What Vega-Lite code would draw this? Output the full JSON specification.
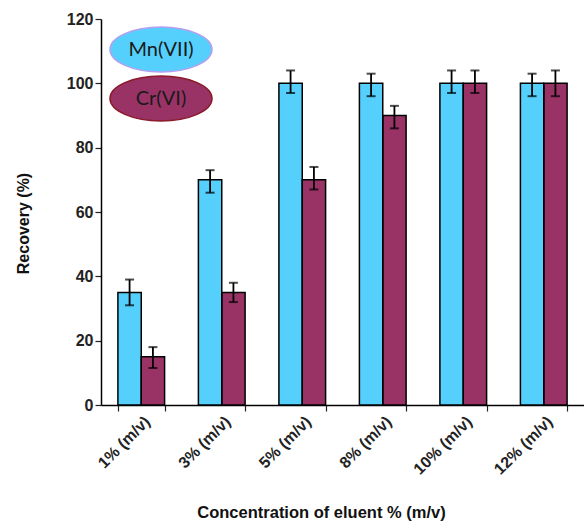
{
  "$schema": "https://vega.github.io/schema/vega-lite/v6.json",
  "width": 483,
  "height": 386,
  "autosize": {"type": "none"},
  "padding": {"left": 101, "top": 19, "right": 0, "bottom": 116},
  "background": "white",
  "config": {"view": {"stroke": null}, "font": "Liberation Sans"},
  "data": {
    "values": [
      {"eluent": "1% (m/v)", "ion": "Mn(VII)", "recovery": 35, "lower": 31, "upper": 39},
      {"eluent": "1% (m/v)", "ion": "Cr(VI)", "recovery": 15, "lower": 11.5, "upper": 18},
      {"eluent": "3% (m/v)", "ion": "Mn(VII)", "recovery": 70, "lower": 66, "upper": 73},
      {"eluent": "3% (m/v)", "ion": "Cr(VI)", "recovery": 35, "lower": 32, "upper": 38},
      {"eluent": "5% (m/v)", "ion": "Mn(VII)", "recovery": 100, "lower": 97, "upper": 104},
      {"eluent": "5% (m/v)", "ion": "Cr(VI)", "recovery": 70, "lower": 67, "upper": 74},
      {"eluent": "8% (m/v)", "ion": "Mn(VII)", "recovery": 100, "lower": 96, "upper": 103},
      {"eluent": "8% (m/v)", "ion": "Cr(VI)", "recovery": 90, "lower": 86, "upper": 93},
      {"eluent": "10% (m/v)", "ion": "Mn(VII)", "recovery": 100, "lower": 97, "upper": 104},
      {"eluent": "10% (m/v)", "ion": "Cr(VI)", "recovery": 100, "lower": 97, "upper": 104},
      {"eluent": "12% (m/v)", "ion": "Mn(VII)", "recovery": 100, "lower": 96, "upper": 103},
      {"eluent": "12% (m/v)", "ion": "Cr(VI)", "recovery": 100, "lower": 96, "upper": 104}
    ]
  },
  "encoding": {
    "x": {
      "field": "eluent",
      "type": "nominal",
      "sort": ["1% (m/v)", "3% (m/v)", "5% (m/v)", "8% (m/v)", "10% (m/v)", "12% (m/v)"],
      "scale": {"paddingInner": 0.42, "paddingOuter": 0.21},
      "axis": {
        "title": "Concentration of eluent % (m/v)",
        "labelAngle": -45,
        "labelFont": "Liberation Sans",
        "labelFontWeight": "bold",
        "labelFontSize": 16,
        "labelColor": "#222222",
        "tickBand": "extent",
        "tickSize": 6,
        "tickColor": "#222222",
        "tickWidth": 1.2,
        "domainColor": "#000000",
        "domainWidth": 1.5,
        "titleFont": "Liberation Sans",
        "titleFontSize": 16.5,
        "titleFontWeight": "bold",
        "titleColor": "#111111",
        "titleX": 220,
        "titleY": 112,
        "titleAlign": "center",
        "titleBaseline": "alphabetic"
      }
    },
    "xOffset": {"field": "ion", "type": "nominal", "sort": ["Mn(VII)", "Cr(VI)"], "scale": {"paddingInner": 0, "paddingOuter": 0}}
  },
  "layer": [
    {
      "mark": {"type": "bar"},
      "encoding": {
        "y": {
          "field": "recovery",
          "type": "quantitative",
          "scale": {"domain": [0, 120]},
          "axis": {
            "title": "Recovery (%)",
            "values": [0, 20, 40, 60, 80, 100, 120],
            "grid": false,
            "labelFont": "Liberation Sans",
            "labelFontWeight": "bold",
            "labelFontSize": 16,
            "labelColor": "#222222",
            "tickSize": 6,
            "tickColor": "#222222",
            "tickWidth": 1.2,
            "domainColor": "#000000",
            "domainWidth": 1.5,
            "titleFont": "Liberation Sans",
            "titleFontSize": 16,
            "titleFontWeight": "bold",
            "titleColor": "#111111",
            "titleX": -78,
            "titleY": 204,
            "titleAlign": "center",
            "titleBaseline": "middle"
          }
        },
        "color": {
          "field": "ion",
          "type": "nominal",
          "scale": {"domain": ["Mn(VII)", "Cr(VI)"], "range": ["#55D0FC", "#993366"]},
          "legend": {
            "title": null,
            "orient": "none",
            "legendX": 36.5,
            "legendY": 7,
            "padding": 0,
            "symbolType": "M-2.242,0 C-2.242,-0.544 -1.238,-0.985 0,-0.985 C1.238,-0.985 2.242,-0.544 2.242,0 C2.242,0.544 1.238,0.985 0,0.985 C-1.238,0.985 -2.242,0.544 -2.242,0 Z",
            "symbolSize": 2070,
            "symbolStrokeWidth": 1.5,
            "symbolOpacity": 1,
            "labelFont": "Lato",
            "labelFontSize": 20,
            "labelColor": "#1a1a1a",
            "labelAlign": "center",
            "labelOffset": -23.5,
            "rowPadding": -4,
            "encode": {
              "symbols": {
                "enter": {"stroke": {"signal": "datum.value === 'Mn(VII)' ? '#B4A0F0' : '#8B1A2A'"}, "strokeWidth": {"value": 1.5}},
                "update": {"stroke": {"signal": "datum.value === 'Mn(VII)' ? '#B4A0F0' : '#8B1A2A'"}, "strokeWidth": {"value": 1.5}}
              }
            }
          }
        }
      }
    },
    {
      "mark": {"type": "bar", "fillOpacity": 0, "stroke": "#000000", "strokeWidth": 1.5},
      "encoding": {
        "y": {"field": "recovery", "type": "quantitative", "title": "Recovery (%)"}
      }
    },
    {
      "mark": {"type": "rule", "color": "#000000", "strokeWidth": 1.8},
      "encoding": {
        "y": {"field": "lower", "type": "quantitative", "title": "Recovery (%)"},
        "y2": {"field": "upper"}
      }
    },
    {
      "mark": {"type": "tick", "color": "#000000", "size": 9, "thickness": 2},
      "encoding": {"y": {"field": "lower", "type": "quantitative", "title": "Recovery (%)"}}
    },
    {
      "mark": {"type": "tick", "color": "#000000", "size": 9, "thickness": 2},
      "encoding": {"y": {"field": "upper", "type": "quantitative", "title": "Recovery (%)"}}
    }
  ]
}
